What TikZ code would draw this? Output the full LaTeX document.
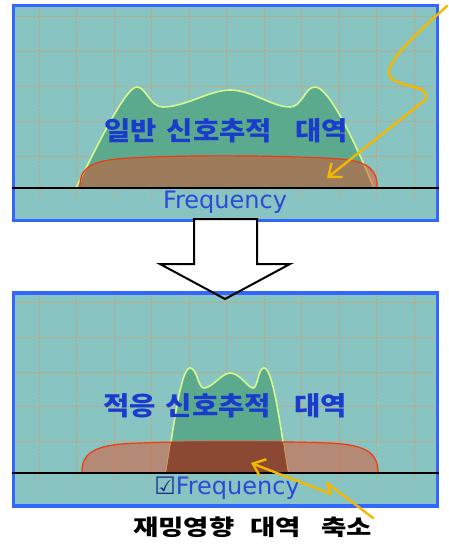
\documentclass[tikz,border=0pt]{standalone}
\usepackage{fontspec}
\setmainfont{DejaVu Sans}
\newfontfamily\kra{Noto Sans CJK KR}[FakeStretch=1.1]
\newfontfamily\krb{Noto Sans CJK KR}[FakeStretch=1.25]
\usetikzlibrary{arrows.meta}
\definecolor{panelc}{HTML}{88C4C2}
\definecolor{borderc}{HTML}{3366FF}
\definecolor{gridc}{HTML}{D2A06C}
\definecolor{greenc}{HTML}{5BAA8E}
\definecolor{greenedge}{HTML}{D6F88E}
\definecolor{redc}{HTML}{E0502C}
\definecolor{rededge}{HTML}{F03A10}
\definecolor{darkred}{HTML}{8A4430}
\definecolor{yellowc}{HTML}{F5B800}
\definecolor{textblue}{HTML}{1A3CCC}
\definecolor{freqblue}{HTML}{2A4AD8}
\definecolor{checkc}{HTML}{1C2C8C}
\def\gT{(76,188) .. controls (100,140) and (126,87) .. (137,87) .. controls (146,87) and (150,107) .. (163,107) .. controls (185,107) and (210,90) .. (230,90) .. controls (252,90) and (272,107) .. (290,107) .. controls (302,107) and (305,87) .. (315,87) .. controls (328,87) and (352,135) .. (374,188) -- cycle}
\def\oT{(80,188) .. controls (79,168) and (90,160) .. (130,158) .. controls (180,155) and (280,155) .. (340,159) .. controls (370,161) and (378,172) .. (377,188) -- cycle}
\def\gB{(166,473) .. controls (172,440) and (180,368) .. (190,368) .. controls (197,368) and (198,388) .. (204,388) .. controls (212,388) and (222,373) .. (230,373) .. controls (240,373) and (248,388) .. (253,388) .. controls (258,388) and (258,368) .. (264,368) .. controls (274,368) and (282,440) .. (288,473) -- cycle}
\def\oB{(82,473) .. controls (81,450) and (100,444) .. (140,443) .. controls (190,441) and (270,441) .. (330,443) .. controls (370,445) and (378,455) .. (378,473) -- cycle}
\tikzset{
  panel/.style={fill=panelc, draw=borderc, line width=3.5pt},
  gridline/.style={draw=gridc, line width=1pt, dash pattern=on 2pt off 1.5pt},
  greenshape/.style={fill=greenc, draw=greenedge, line width=1.6pt},
  redshape/.style={fill=redc, fill opacity=0.5, draw=rededge, line width=1.2pt},
  axisline/.style={draw=black, line width=1.2pt},
  yarrow/.style={draw=yellowc, line width=2.4pt, line join=round, line cap=round, -{Straight Barb[length=11pt,width=18pt]}},
  ktext/.style={font=\kra\bfseries\fontsize{26}{30}\selectfont, text=textblue, inner sep=0pt},
  ftext/.style={font=\fontsize{24}{28}\selectfont, text=freqblue, inner sep=0pt},
  lbltext/.style={font=\krb\bfseries\fontsize{22}{26}\selectfont, text=black, inner sep=0pt},
  blockarrow/.style={draw=black, line width=2pt, line join=miter}
}
\begin{document}
\begin{tikzpicture}[x=1pt,y=-1pt]
\useasboundingbox (0,0) rectangle (448,544);
% ---------- top panel ----------
\draw[panel] (13.5,5.3) rectangle (437.5,220.5);
\foreach \yy in {16,51,86,121,156} \draw[gridline] (15.5,\yy) -- (435.5,\yy);
\foreach \k in {0,...,10} \draw[gridline] ({39.3+37.5*\k},7) -- ({39.3+37.5*\k},197);
\filldraw[greenshape] \gT;
\filldraw[redshape] \oT;
\draw[axisline] (12,188) -- (439,188);
\node[ktext] (t1) at (226,131) {일반\hspace{10pt}신호추적\hspace{23pt}대역};
\node[ftext] (f1) at (225,202) {Frequency};
\coordinate (a1s) at (447,6);
\coordinate (a1e) at (327,178);
\draw[yarrow] (a1s) .. controls (415,35) and (378,68) .. (392,79) .. controls (405,88) and (432,86) .. (425,100) -- (a1e);
% ---------- down block arrow (fill) ----------
\fill[white] (194,219) -- (257,219) -- (257,264) -- (290,264) -- (225,299) -- (160,264) -- (194,264) -- cycle;
% ---------- bottom panel ----------
\draw[panel] (13.5,293) rectangle (437.5,506);
\foreach \yy in {302,337,372,406,441} \draw[gridline] (15.5,\yy) -- (435.5,\yy);
\foreach \k in {0,...,10} \draw[gridline] ({39.3+37.5*\k},295) -- ({39.3+37.5*\k},482);
\filldraw[greenshape] \gB;
\filldraw[redshape] \oB;
\begin{scope}
  \clip \gB;
  \fill[darkred, opacity=0.9] \oB;
\end{scope}
\draw[axisline] (12,473) -- (439,473);
\node[ktext] (t2) at (225,406) {적응\hspace{10pt}신호추적\hspace{23pt}대역};
\node[ftext] (f2) at (227,488) {{\color{checkc}☑}Frequency};
% ---------- down block arrow (outline) ----------
\draw[blockarrow] (194,219) -- (257,219) -- (257,264) -- (290,264) -- (225,299) -- (160,264) -- (194,264) -- cycle;
% ---------- bottom label and arrow ----------
\node[lbltext] (lbl) at (252.5,527) {재밍영향\hspace{16pt}대역\hspace{20pt}축소};
\coordinate (a2s) at (373,518);
\coordinate (a2e) at (251,463);
\draw[yarrow] (a2s) -- (327,483) -- (331,494) -- (a2e);
\end{tikzpicture}
\end{document}
